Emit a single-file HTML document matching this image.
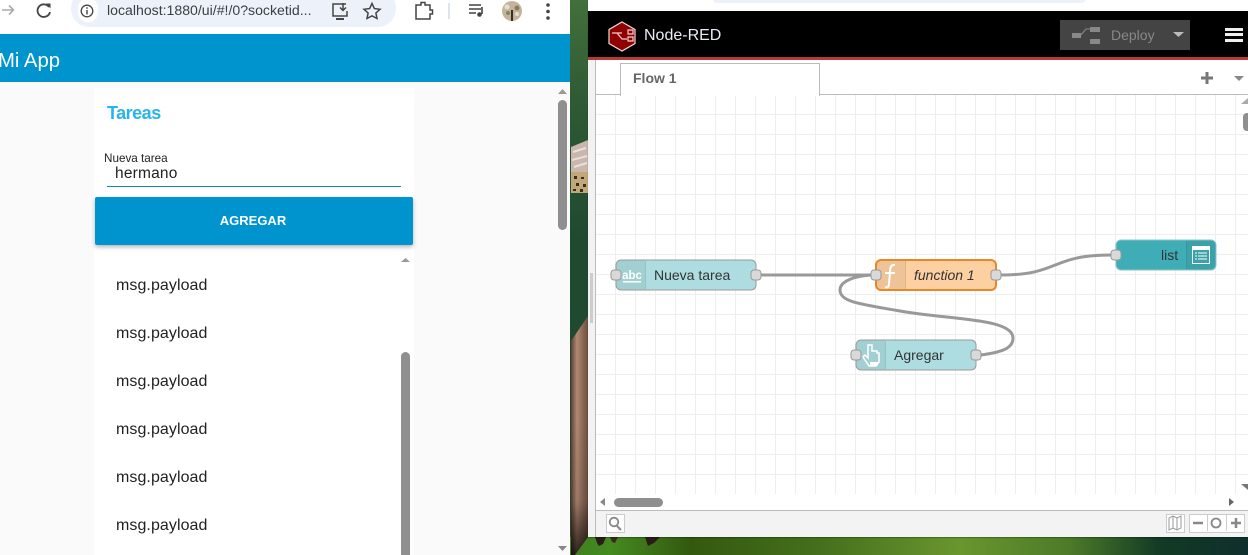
<!DOCTYPE html>
<html><head><meta charset="utf-8"><style>
html,body{margin:0;padding:0;width:1248px;height:555px;overflow:hidden;background:#fff;font-family:"Liberation Sans",sans-serif}
.a{position:absolute}
.t{position:absolute;white-space:nowrap;line-height:20px;height:20px}
.li{left:116px;font-size:16px;color:#222;letter-spacing:.07px}
svg{position:absolute;left:0;top:0}
</style></head><body>
<div class="a" style="left:0;top:0;width:1248px;height:555px;overflow:hidden">
<!-- desktop background -->
<div class="a" style="left:570px;top:0;width:678px;height:555px;background:linear-gradient(180deg,#42703a 0,#2f5a35 100px,#1f4a30 240px)"></div>
<div class="a" style="left:570px;top:537px;width:678px;height:18px;background:linear-gradient(90deg,#3f8020 0,#458a20 40px,#33590f 120px,#456f1c 250px,#6a962f 390px,#4c7a28 500px,#123a25 590px,#0f2f2c 678px)"></div>
<svg width="1248" height="555" viewBox="0 0 1248 555" xmlns="http://www.w3.org/2000/svg">
<defs>
<linearGradient id="br" x1="0" y1="0" x2="1" y2="0"><stop offset="0" stop-color="#5e4034"/><stop offset=".35" stop-color="#b08a74"/><stop offset=".7" stop-color="#8a6854"/><stop offset="1" stop-color="#6d5040"/></linearGradient>
<linearGradient id="bd" x1="0" y1="0" x2="0" y2="1"><stop offset="0" stop-color="#000" stop-opacity="0"/><stop offset=".6" stop-color="#000" stop-opacity=".1"/><stop offset="1" stop-color="#000" stop-opacity=".75"/></linearGradient>
</defs>
<!-- feather patch -->
<path d="M571 147L588 140V172H571Z" fill="#c9b7ad"/>
<path d="M571 172H588V193L571 193Z" fill="#c2a878"/>
<path d="M573 152L586 148M572 160L587 156M574 167L587 163" stroke="#e8dfd8" stroke-width="2"/>
<path d="M574 176h3v3h-3zM581 177h3v2h-3zM576 183h3v3h-3zM583 184h3v3h-3zM573 189h3v2h-3zM580 189h3v3h-3z" fill="#3a2c1c"/>
<!-- brown wing -->
<path d="M571 341L588 316V537L575 555H571Z" fill="url(#br)"/>
<path d="M571 420L588 420V537L575 555H571Z" fill="url(#bd)"/>
<!-- tufts -->
<path d="M595 537H606L603 544L599 546L597 543Z" fill="#2a1d18"/>
<path d="M610 537H618L615 543L612 542Z" fill="#3a2a20"/>
<path d="M645 537H660L654 543L648 546Z" fill="#2a1d18"/>
</svg>

<!-- left browser -->
<div class="a" style="left:0;top:0;width:570px;height:555px;background:#fafafa"></div>
<div class="a" style="left:0;top:0;width:570px;height:34px;background:#fff"></div>
<div class="a" style="left:71px;top:-10px;width:325px;height:37px;border-radius:18px;background:#edf2fa"></div>
<div class="a" style="left:78px;top:-2px;width:20px;height:24px;border-radius:12px;background:#fff"></div>
<div class="t" style="left:107px;top:0;font-size:14.1px;color:#3c4043">localhost:1880/ui/#!/0?socketid...</div>
<div class="a" style="left:0;top:34px;width:570px;height:48px;background:#0094ce"></div>
<div class="t" style="left:-2px;top:51px;font-size:20.3px;color:#fff">Mi App</div>
<div class="a" style="left:94px;top:88px;width:320px;height:467px;background:#fff"></div>
<div class="t" style="left:107px;top:103px;font-size:18px;font-weight:bold;color:#29b4ef;letter-spacing:-.5px">Tareas</div>
<div class="t" style="left:104px;top:149px;font-size:11.7px;color:#222">Nueva tarea</div>
<div class="t" style="left:115px;top:164px;font-size:15.5px;color:#222;letter-spacing:.2px">hermano</div>
<div class="a" style="left:107px;top:186px;width:294px;height:1px;background:#0f88b8"></div>
<div class="a" style="left:95px;top:197px;width:318px;height:48px;background:#0094ce;border-radius:2px;box-shadow:0 2px 4px rgba(0,0,0,.3)"></div>
<div class="t" style="left:94px;top:211px;width:318px;text-align:center;font-size:13px;font-weight:bold;color:#fff">AGREGAR</div>
<div class="t li" style="top:276px">msg.payload</div>
<div class="t li" style="top:324px">msg.payload</div>
<div class="t li" style="top:372px">msg.payload</div>
<div class="t li" style="top:420px">msg.payload</div>
<div class="t li" style="top:468px">msg.payload</div>
<div class="t li" style="top:516px">msg.payload</div>
<div class="a" style="left:401px;top:352px;width:9px;height:203px;background:#8f8f8f;border-radius:5px 5px 0 0"></div>
<div class="a" style="left:558px;top:100px;width:9px;height:130px;background:#8f8f8f;border-radius:5px"></div>

<!-- Node-RED window -->
<div class="a" style="left:588px;top:0;width:660px;height:537px;background:#fff;box-shadow:0 1px 1px rgba(0,0,0,.3)"></div>
<div class="a" style="left:588px;top:60px;width:8px;height:477px;background:#f2f2f2"></div>
<div class="a" style="left:713px;top:0;width:372px;height:3px;background:#edf2fa;border-radius:0 0 8px 8px"></div>
<div class="a" style="left:588px;top:11px;width:660px;height:46px;background:#000"></div>
<div class="a" style="left:588px;top:57px;width:660px;height:3px;background:#b53a3a"></div>
<div class="t" style="left:644px;top:26px;font-size:16px;color:#e8ecf2">Node-RED</div>
<div class="a" style="left:1060px;top:20px;width:130px;height:30px;background:#444"></div>
<div class="t" style="left:1111px;top:25px;font-size:14px;color:#888">Deploy</div>
<div class="a" style="left:1225px;top:28px;width:18px;height:3px;background:#eee"></div>
<div class="a" style="left:1225px;top:33px;width:18px;height:3px;background:#eee"></div>
<div class="a" style="left:1225px;top:39px;width:18px;height:3px;background:#eee"></div>
<div class="a" style="left:590px;top:273px;width:3px;height:50px;background:#ccc"></div>
<div class="a" style="left:595px;top:60px;width:1px;height:477px;background:#bbb"></div>
<!-- canvas -->
<div class="a" style="left:596px;top:95px;width:652px;height:399px;background-color:#fff;background-image:linear-gradient(#eee 1px,transparent 1px),linear-gradient(90deg,#eee 1px,transparent 1px);background-size:20px 20px;background-position:0 -1px,19px 0"></div>
<div class="a" style="left:596px;top:94px;width:652px;height:1px;background:#bbb"></div>
<div class="a" style="left:620px;top:63px;width:198px;height:32px;background:#fff;border:1px solid #bbb;border-bottom:none"></div>
<div class="t" style="left:633px;top:68px;font-size:14px;font-weight:bold;color:#666">Flow 1</div>
<div class="a" style="left:596px;top:494px;width:652px;height:16px;background:#fff"></div>
<div class="a" style="left:614px;top:498px;width:49px;height:9px;background:#8f8f8f;border-radius:5px"></div>
<div class="a" style="left:1243px;top:113px;width:5px;height:18px;background:#8f8f8f;border-radius:4px 0 0 4px"></div>
<div class="a" style="left:596px;top:510px;width:652px;height:27px;background:#f3f3f3;border-top:1px solid #bbb;box-sizing:border-box"></div>
<div class="a" style="left:606px;top:514px;width:17px;height:17px;border:1px solid #ccc;background:#fff"></div>
<div class="a" style="left:1166px;top:514px;width:17px;height:17px;border:1px solid #ccc;background:#fff"></div>
<div class="a" style="left:1189px;top:514px;width:54px;height:17px;border:1px solid #ccc;background:#fff"></div>
<div class="a" style="left:1207px;top:514px;width:18px;height:17px;border-left:1px solid #ccc;border-right:1px solid #ccc"></div>

<!-- vector layer -->
<svg width="1248" height="555" viewBox="0 0 1248 555" xmlns="http://www.w3.org/2000/svg">
<!-- chrome icons -->
<path d="M2 10H13M9 5.5L13.5 10L9 14.5" fill="none" stroke="#aaa" stroke-width="1.6"/>
<path d="M49 7A6.3 6.3 0 1 0 50 12" fill="none" stroke="#444" stroke-width="1.8"/><path d="M46 3.5L50.5 3.5L50.5 8.5Z" fill="#444"/>
<circle cx="87" cy="11" r="5.8" fill="none" stroke="#444" stroke-width="1.3"/><path d="M87 10V14.5M87 7.3V8.8" stroke="#444" stroke-width="1.4"/>
<path d="M346 4H333V16H347V11" fill="none" stroke="#444" stroke-width="1.5"/><path d="M336 19H344" stroke="#444" stroke-width="2"/><path d="M343 3V10M340 7.5L343 10.5L346 7.5" fill="none" stroke="#444" stroke-width="1.5"/>
<path d="M372 3.5L374.4 8.6L380 9.3L375.9 13L377 18.5L372 15.8L367 18.5L368.1 13L364 9.3L369.6 8.6Z" fill="none" stroke="#444" stroke-width="1.5"/>
<path d="M416 5H421V2.5H425V5H430V10H432.5V14H430V19H416Z" fill="none" stroke="#444" stroke-width="1.5"/>
<path d="M449 3V19" stroke="#d3dbe6" stroke-width="1.5"/>
<path d="M469 5H481M469 9H481M469 13H476" stroke="#444" stroke-width="1.4"/><path d="M482 7V14" stroke="#444" stroke-width="1.6"/><circle cx="479.5" cy="14.5" r="2.3" fill="#444"/>
<circle cx="512" cy="11" r="10" fill="#c4b39c"/><circle cx="507" cy="7" r="2.500" fill="#e4dfd0"/><circle cx="517" cy="8" r="2.500" fill="#8a7a5b"/><circle cx="508" cy="13" r="2" fill="#7d8a5b"/><circle cx="517" cy="14" r="2" fill="#e4dfd0"/><path d="M512 10V21" stroke="#3d2c22" stroke-width="2"/>
<circle cx="548" cy="5" r="1.8" fill="#444"/><circle cx="548" cy="11.5" r="1.8" fill="#444"/><circle cx="548" cy="18" r="1.8" fill="#444"/>
<!-- scroll arrows -->
<path d="M558 94L562.5 89L567 94Z" fill="#999"/><path d="M558 546L562.5 551L567 546Z" fill="#888"/>
<path d="M401 262L405.500 258L410 262Z" fill="#999"/>
<path d="M600 502L605 498V506Z" fill="#888"/><path d="M1229 498L1234 502L1229 506Z" fill="#666"/>
<path d="M1241 104L1248 98V104Z" fill="#aaa"/><path d="M1241 484H1248V490Z" fill="#777"/>
<path d="M1234 76H1244L1239 81Z" fill="#888"/>
<path d="M1201 78H1213M1207 72V84" stroke="#777" stroke-width="3"/>
<!-- logo -->
<path d="M622 22L635 29.500V43.500L622 51L609 43.500V29.500Z" fill="#8f0000" stroke="#f3d6d6" stroke-width="1.2"/>
<path d="M612 33H617L622 39L627 39M617 33H622M628 30H633V34H628ZM628 37H633V41H628Z" fill="none" stroke="#f0d0d0" stroke-width="1.2"/>
<!-- deploy icon -->
<rect x="1072" y="33" width="9" height="5" fill="#888"/><rect x="1090" y="27" width="10" height="5" fill="#888"/><rect x="1090" y="39" width="10" height="5" fill="#888"/>
<path d="M1081 35L1086 29H1090" stroke="#888" fill="none"/>
<path d="M1173 32H1184L1178.500 37Z" fill="#bbb"/>
<!-- footer icons -->
<circle cx="614" cy="522" r="4.300" fill="none" stroke="#888" stroke-width="1.8"/><path d="M617 526L621 530" stroke="#888" stroke-width="2"/>
<path d="M1169 518L1173 516L1177 518L1181 516V528L1177 530L1173 528L1169 530ZM1173 516V528M1177 518V530" fill="none" stroke="#999"/>
<path d="M1193 523H1203" stroke="#888" stroke-width="2.500"/>
<circle cx="1216" cy="523" r="4.500" fill="none" stroke="#888" stroke-width="1.800"/>
<path d="M1231 523H1241M1236 518V528" stroke="#888" stroke-width="2.500"/>
<!-- wires -->
<g fill="none" stroke="#999" stroke-width="3">
<path d="M761 275H871"/>
<path d="M1001 275C1060 275 1050 255 1111 255"/>
<path d="M981 355C1003 352 1013 348 1013 338C1013 318 950 320 900 311C860 304 840 302 840 290C840 281 855 276 871 275"/>
</g>
<!-- Nueva tarea -->
<rect x="616" y="260" width="140" height="30" rx="5" fill="#addde0" stroke="#999"/>
<path d="M621 260.500H645V289.500H621A5 5 0 0 1 616.500 285V265A5 5 0 0 1 621 260.500Z" fill="#000" fill-opacity=".06"/>
<path d="M645.500 261V289" stroke="#000" stroke-opacity=".12"/>
<text x="632" y="279" text-anchor="middle" font-family="Liberation Sans, sans-serif" font-size="11.500" font-weight="bold" fill="#fff">abc</text>
<rect x="623" y="281" width="18" height="1.500" fill="#fff"/>
<text x="654" y="280" font-family="Liberation Sans, sans-serif" font-size="14" fill="#333">Nueva tarea</text>
<rect x="611" y="270" width="10" height="10" rx="3" fill="#d9d9d9" stroke="#999"/>
<rect x="751" y="270" width="10" height="10" rx="3" fill="#d9d9d9" stroke="#999"/>
<!-- function -->
<rect x="876" y="260" width="120" height="30" rx="5" fill="#fdd0a2" stroke="#e8862a" stroke-width="2"/>
<path d="M881 261H905V289H881A4 4 0 0 1 877 285V265A4 4 0 0 1 881 261Z" fill="#000" fill-opacity=".06"/>
<path d="M905.500 261V289" stroke="#000" stroke-opacity=".12"/>
<path d="M895 265C891 264 890 268 890 272L889 284C889 287 887 288 885 287M885 273H895" fill="none" stroke="#fff" stroke-width="2"/>
<text x="914" y="280" font-family="Liberation Sans, sans-serif" font-size="14" font-style="italic" fill="#333">function 1</text>
<rect x="871" y="270" width="10" height="10" rx="3" fill="#d9d9d9" stroke="#999"/>
<rect x="991" y="270" width="10" height="10" rx="3" fill="#d9d9d9" stroke="#999"/>
<!-- list -->
<rect x="1116" y="240" width="100" height="30" rx="5" fill="#3fadb5" stroke="#8fc4c8"/>
<path d="M1187 240.500H1211A5 5 0 0 1 1215.500 245V265A5 5 0 0 1 1211 269.500H1187Z" fill="#000" fill-opacity=".06"/>
<path d="M1186.500 241V269" stroke="#000" stroke-opacity=".12"/>
<rect x="1192.500" y="246.500" width="17" height="17" fill="none" stroke="#fff"/><rect x="1192" y="246" width="18" height="4" fill="#fff"/>
<path d="M1195 253H1197M1198 253H1207M1195 256H1197M1198 256H1207M1195 259H1197M1198 259H1207" stroke="#fff"/>
<text x="1161" y="260" font-family="Liberation Sans, sans-serif" font-size="14" fill="#333">list</text>
<rect x="1111" y="250" width="10" height="10" rx="3" fill="#d9d9d9" stroke="#999"/>
<!-- Agregar -->
<rect x="856" y="340" width="120" height="30" rx="5" fill="#addde0" stroke="#999"/>
<path d="M861 340.500H885V369.500H861A5 5 0 0 1 856.500 365V345A5 5 0 0 1 861 340.500Z" fill="#000" fill-opacity=".06"/>
<path d="M885.500 341V369" stroke="#000" stroke-opacity=".12"/>
<path d="M868 345H872V351H877V353H879V362L876 366H869L863 357L865 355L868 358Z" fill="none" stroke="#fff" stroke-width="1.500"/><rect x="870" y="362" width="8" height="3.500" fill="#fff"/>
<text x="894" y="360" font-family="Liberation Sans, sans-serif" font-size="14" fill="#333">Agregar</text>
<rect x="851" y="350" width="10" height="10" rx="3" fill="#d9d9d9" stroke="#999"/>
<rect x="971" y="350" width="10" height="10" rx="3" fill="#d9d9d9" stroke="#999"/>
</svg>
</div>
</body></html>
